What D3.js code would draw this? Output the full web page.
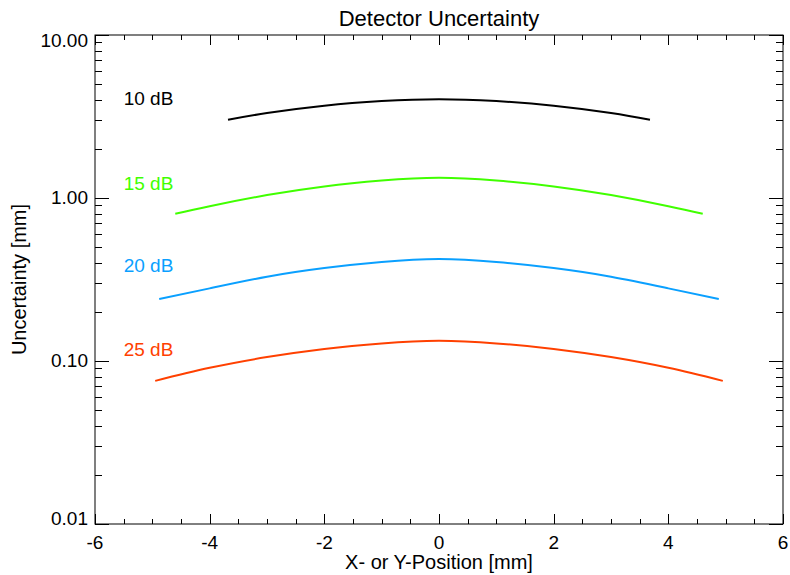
<!DOCTYPE html>
<html>
<head>
<meta charset="utf-8">
<script src="https://cdn.jsdelivr.net/npm/d3@7"></script>
<style>
  html, body { margin: 0; padding: 0; background: #fff; }
  svg { display: block; font-family: "Liberation Sans", Arial, Helvetica, sans-serif; }
</style>
</head>
<body>
<svg id="chart" width="790" height="575"></svg>
<script>
// Detector uncertainty vs. position for four signal levels
const seriesNames = ["10 dB", "15 dB", "20 dB", "25 dB"];
const seriesColors = ["#000000", "#40ff00", "#0aa0ff", "#ff4000"];

const x10 = [-3.68, -3, -2, -1, 0, 1, 2, 3, 3.68];
const y10 = [3.02, 3.32, 3.68, 3.93, 4.04, 3.93, 3.68, 3.32, 3.02];

const x15 = [-4.6, -4, -3, -2, -1, 0, 1, 2, 3, 4, 4.6];
const y15 = [0.80, 0.891, 1.042, 1.178, 1.279, 1.33, 1.279, 1.178, 1.042, 0.891, 0.80];

const x20 = [-4.88, -4, -3, -2, -1, 0, 1, 2, 3, 4, 4.88];
const y20 = [0.240, 0.279, 0.329, 0.372, 0.405, 0.422, 0.405, 0.372, 0.329, 0.279, 0.240];

const x25 = [-4.95, -4, -3, -2, -1, 0, 1, 2, 3, 4, 4.95];
const y25 = [0.0755, 0.0908, 0.1057, 0.1186, 0.1282, 0.133, 0.1282, 0.1186, 0.1057, 0.0908, 0.0755];

// where each series name is written (data units)
const labelX = -5.5;
const labelY = [3.7, 1.12, 0.35, 0.107];

const xTicks = [-6, -4, -2, 0, 2, 4, 6];
const yTicks = [0.01, 0.1, 1, 10];
const yTickLabels = ["0.01", "0.10", "1.00", "10.00"];

const seriesX = [x10, x15, x20, x25];
const seriesY = [y10, y15, y20, y25];

const margin = { left: 95, right: 7, top: 35, bottom: 51 };
const W = 790, H = 575;
const pw = W - margin.left - margin.right;
const ph = H - margin.top - margin.bottom;

const svg = d3.select("#chart");
const g = svg.append("g").attr("transform", `translate(${margin.left},${margin.top})`);

const x = d3.scaleLinear().domain([-6, 6]).range([0, pw]);
const y = d3.scaleLog().domain([0.01, 10]).range([ph, 0]);

// minor ticks
const xMinor = d3.range(-6, 6.001, 0.5).filter(v => !xTicks.includes(v));
const yMinor = [];
[0.01, 0.1, 1].forEach(d => { for (let k = 2; k <= 9; k++) yMinor.push(d * k); });

const xMajLen = 10, xMinLen = 5, yMajLen = 14, yMinLen = 7;

// frame
g.append("rect").attr("x", 0).attr("y", 0).attr("width", pw).attr("height", ph)
  .attr("fill", "none").attr("stroke", "#000").attr("stroke-width", 1);

const ticks = g.append("g").attr("stroke", "#000").attr("stroke-width", 1);
// bottom + top
xTicks.concat(xMinor).forEach(v => {
  const len = xTicks.includes(v) ? xMajLen : xMinLen;
  const px = Math.round(x(v)) + 0.5;
  ticks.append("line").attr("x1", px).attr("x2", px).attr("y1", ph).attr("y2", ph - len);
  ticks.append("line").attr("x1", px).attr("x2", px).attr("y1", 0).attr("y2", len);
});
// left + right
yTicks.concat(yMinor).forEach(v => {
  const len = yTicks.includes(v) ? yMajLen : yMinLen;
  const py = Math.round(y(v)) + 0.5;
  ticks.append("line").attr("x1", 0).attr("x2", len).attr("y1", py).attr("y2", py);
  ticks.append("line").attr("x1", pw).attr("x2", pw - len).attr("y1", py).attr("y2", py);
});

// tick labels
g.append("g").selectAll("text").data(xTicks).join("text")
  .attr("x", d => x(d)).attr("y", ph + 25)
  .attr("text-anchor", "middle").attr("font-size", 19).text(d => d);

g.append("g").selectAll("text").data(yTicks).join("text")
  .attr("x", -7)
  .attr("y", (d, i) => {
    // keep the end labels inside the frame height
    if (i === 0) return y(d) + 1;
    if (i === yTicks.length - 1) return y(d) + 12;
    return y(d) + 6;
  })
  .attr("text-anchor", "end").attr("font-size", 19).text((d, i) => yTickLabels[i]);

// curves
const line = d3.line()
  .x(d => x(d[0])).y(d => y(d[1]))
  .curve(d3.curveNatural);

seriesNames.forEach((name, i) => {
  const pts = seriesX[i].map((v, j) => [v, seriesY[i][j]]);
  g.append("path").datum(pts).attr("d", line)
    .attr("fill", "none").attr("stroke", seriesColors[i]).attr("stroke-width", 2);
  g.append("text").attr("x", x(labelX)).attr("y", y(labelY[i]))
    .attr("fill", seriesColors[i]).attr("font-size", 19).text(name);
});

// titles
svg.append("text").attr("x", margin.left + pw / 2).attr("y", 26)
  .attr("text-anchor", "middle").attr("font-size", 22).text("Detector Uncertainty");
svg.append("text").attr("x", margin.left + pw / 2).attr("y", 569)
  .attr("text-anchor", "middle").attr("font-size", 20).text("X- or Y-Position [mm]");
svg.append("text")
  .attr("transform", `translate(26,${margin.top + ph / 2}) rotate(-90)`)
  .attr("text-anchor", "middle").attr("font-size", 20).text("Uncertainty [mm]");
</script>
</body>
</html>
